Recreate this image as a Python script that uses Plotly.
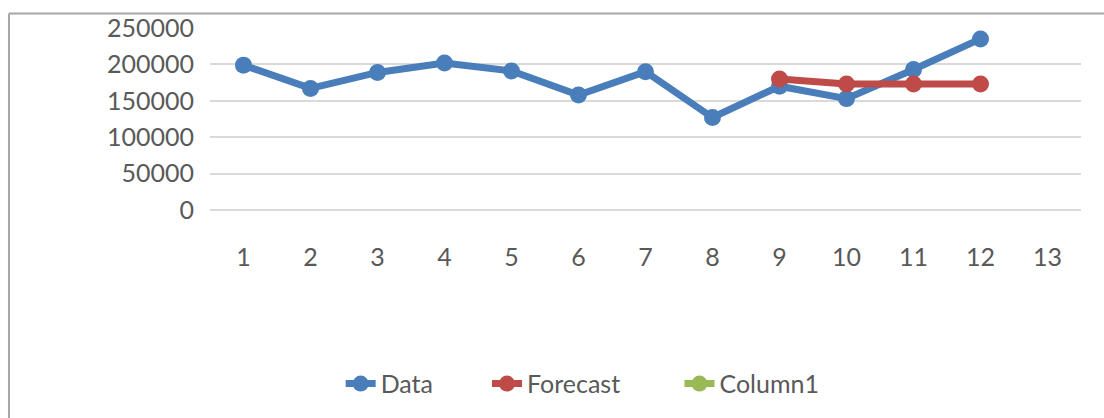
import plotly.graph_objects as go

categories = [str(i) for i in range(1, 14)]
data_values = [199000, 167000, 189000, 202000, 191000, 158000, 190000, 127000, 170000, 153000, 193000, 235000, None]
forecast_values = [None, None, None, None, None, None, None, None, 180000, 173000, 173000, 173000, None]
column1_values = [None] * 13
y_ticks = [0, 50000, 100000, 150000, 200000, 250000]
y_tick_labels = ["0", "50000", "100000", "150000", "200000", "250000"]

FONT = "Lato"
TXT = "#595959"
FS = 25

fig = go.Figure()
fig.add_trace(go.Scatter(x=categories, y=data_values, name="Data", mode="lines+markers",
                         line=dict(color="#4a7ebb", width=7),
                         marker=dict(color="#4a7ebb", size=17, symbol="circle"), legend="legend"))
fig.add_trace(go.Scatter(x=categories, y=forecast_values, name="Forecast", mode="lines+markers",
                         line=dict(color="#be4b48", width=7),
                         marker=dict(color="#be4b48", size=17, symbol="circle"), legend="legend2"))
fig.add_trace(go.Scatter(x=categories, y=column1_values, name="Column1", mode="lines+markers",
                         line=dict(color="#98b954", width=7),
                         marker=dict(color="#98b954", size=17, symbol="circle"), legend="legend3"))

def leg(xpos):
    return dict(orientation="h", x=xpos, xanchor="left", y=-0.955, yanchor="middle",
                font=dict(family=FONT, size=FS, color=TXT), itemwidth=30,
                bgcolor="rgba(0,0,0,0)")

fig.update_layout(
    width=1104, height=418,
    margin=dict(l=210, r=23, t=22, b=207),
    paper_bgcolor="white", plot_bgcolor="white",
    font=dict(family=FONT, size=FS, color=TXT),
    showlegend=True,
    legend=leg(0.150),
    legend2=leg(0.318),
    legend3=leg(0.539),
    xaxis=dict(type="category", range=[-0.5, 12.5], showgrid=False, zeroline=False,
               showline=False, ticks="", ticklabelstandoff=30,
               tickfont=dict(family=FONT, size=FS, color=TXT), fixedrange=True),
    yaxis=dict(range=[0, 250000], tickvals=y_ticks, ticktext=y_tick_labels,
               showgrid=True, gridcolor="#d9d9d9", gridwidth=2, zeroline=True,
               zerolinecolor="#d9d9d9", zerolinewidth=2, showline=False, ticks="",
               ticklabelstandoff=15, tickfont=dict(family=FONT, size=FS, color=TXT),
               fixedrange=True),
    shapes=[
        dict(type="line", xref="paper", yref="paper", x0=-0.2308, x1=1.1, y0=1.079, y1=1.079,
             line=dict(color="#a6a6a6", width=2)),
        dict(type="line", xref="paper", yref="paper", x0=-0.2308, x1=-0.2308, y0=1.079, y1=-1.2,
             line=dict(color="#a6a6a6", width=2)),
    ],
)

fig.write_html("out.html")
